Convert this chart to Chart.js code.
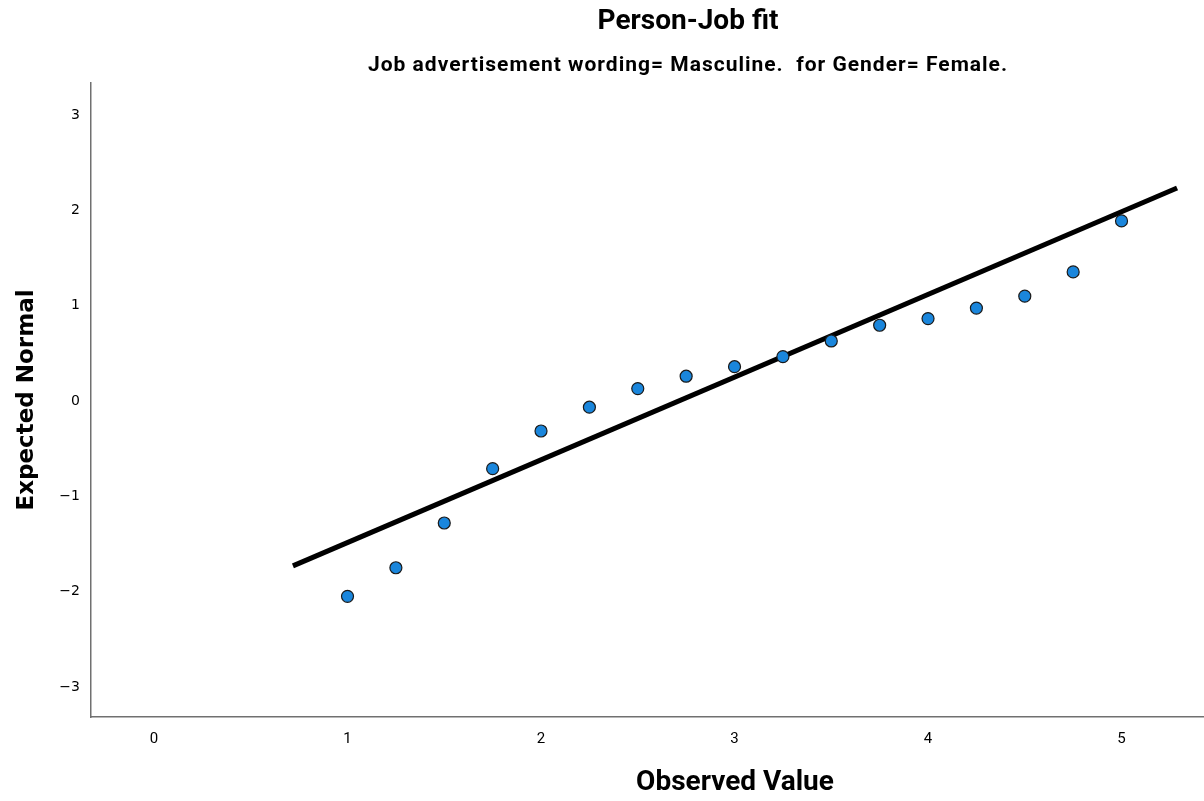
<!DOCTYPE html>
<html>
<head>
<meta charset="utf-8">
<title>Person-Job fit</title>
<script src="https://cdn.jsdelivr.net/npm/chart.js@4.4.1/dist/chart.umd.min.js"></script>
<style>
  html, body { margin: 0; padding: 0; background: #ffffff; overflow: hidden; }
  #wrap { width: 1204px; height: 801px; position: relative; }
  canvas { display: block; }
</style>
</head>
<body>
<div id="wrap"><canvas id="qq" width="1204" height="801"></canvas></div>
<script>
// Observed values and their expected normal scores
const observedValues = [1, 1.25, 1.5, 1.75, 2, 2.25, 2.5, 2.75, 3, 3.25, 3.5, 3.75, 4, 4.25, 4.5, 4.75, 5];
const expectedNormal = [-2.05, -1.75, -1.28, -0.71, -0.315, -0.065, 0.13, 0.26, 0.36, 0.465, 0.63, 0.795, 0.865, 0.975, 1.10, 1.355, 1.89];

// Reference line end points
const refLineX = [0.718, 5.287];
const refLineY = [-1.73, 2.235];

// Axis ticks
const xTickValues = [0, 1, 2, 3, 4, 5];
const yTickValues = [-3, -2, -1, 0, 1, 2, 3];

const chartTitle = 'Person-Job fit';
const chartSubtitle = 'Job advertisement wording= Masculine.  for Gender= Female.';
const xAxisTitle = 'Observed Value';
const yAxisTitle = 'Expected Normal';

const narrowBold = '"Liberation Sans Narrow", "Roboto", "DejaVu Sans Condensed", sans-serif';

const textPlugin = {
  id: 'textLabels',
  afterDraw(chart) {
    const ctx = chart.ctx;
    ctx.save();
    ctx.fillStyle = '#000000';
    ctx.textAlign = 'center';
    ctx.textBaseline = 'middle';
    ctx.font = 'bold 28px ' + narrowBold;
    ctx.fillText(chartTitle, 688, 22);
    ctx.font = 'bold 21px ' + narrowBold;
    if ('letterSpacing' in ctx) ctx.letterSpacing = '1px';
    ctx.fillText(chartSubtitle, 688, 66);
    if ('letterSpacing' in ctx) ctx.letterSpacing = '0px';
    ctx.font = 'bold 28px ' + narrowBold;
    ctx.fillText(xAxisTitle, 735, 783);
    ctx.translate(27, 400);
    ctx.rotate(-Math.PI / 2);
    ctx.font = 'bold 23px "DejaVu Sans", sans-serif';
    ctx.fillText(yAxisTitle, 0, 0);
    ctx.restore();
  }
};

new Chart(document.getElementById('qq'), {
  type: 'scatter',
  data: {
    datasets: [
      {
        type: 'line',
        data: refLineX.map((x, i) => ({ x: x, y: refLineY[i] })),
        borderColor: '#000000',
        borderWidth: 5,
        pointRadius: 0,
        fill: false,
        order: 2
      },
      {
        type: 'scatter',
        data: observedValues.map((x, i) => ({ x: x, y: expectedNormal[i] })),
        backgroundColor: '#1a86dc',
        borderColor: '#1a1a1a',
        borderWidth: 1.2,
        pointRadius: 6,
        order: 1
      }
    ]
  },
  options: {
    responsive: false,
    animation: false,
    layout: { autoPadding: false, padding: { top: 83, right: 1, left: 0, bottom: 0 } },
    plugins: {
      legend: { display: false },
      title: { display: false },
      tooltip: { enabled: false }
    },
    scales: {
      x: {
        type: 'linear',
        min: -0.3256,
        max: 5.421,
        afterBuildTicks(scale) { scale.ticks = xTickValues.map(v => ({ value: v })); },
        afterFit(scale) {
          scale.height = 84;
          scale.paddingLeft = 0;
          scale.paddingRight = 0;
        },
        grid: { display: false, drawTicks: false },
        border: { display: true, color: '#707070', width: 1.5 },
        ticks: {
          color: '#000000',
          padding: 13,
          maxRotation: 0,
          autoSkip: false,
          font: { family: narrowBold, size: 15 }
        }
      },
      y: {
        type: 'linear',
        min: -3.316,
        max: 3.337,
        afterBuildTicks(scale) { scale.ticks = yTickValues.map(v => ({ value: v })); },
        afterFit(scale) {
          scale.width = 91;
          scale.paddingTop = 0;
          scale.paddingBottom = 0;
        },
        grid: { display: false, drawTicks: false },
        border: { display: true, color: '#707070', width: 1.5 },
        ticks: {
          color: '#000000',
          padding: 11,
          autoSkip: false,
          font: { family: '"DejaVu Sans", sans-serif', size: 14 },
          callback: v => (v < 0 ? '\u2212' + Math.abs(v) : String(v))
        }
      }
    }
  },
  plugins: [textPlugin]
});
</script>
</body>
</html>
